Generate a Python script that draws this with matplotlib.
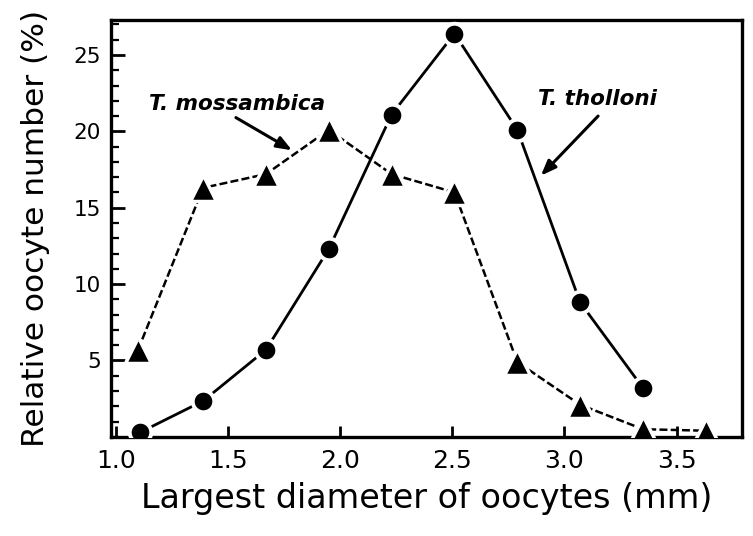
import matplotlib
matplotlib.use("Agg")
import matplotlib.pyplot as plt
from matplotlib.ticker import MultipleLocator

# Values
diam_tholloni = [1.11, 1.39, 1.67, 1.95, 2.23, 2.51, 2.79, 3.07, 3.35]
pct_tholloni = [0.3, 2.35, 5.7, 12.3, 21.1, 26.4, 20.1, 8.8, 3.2]

diam_mossambica = [1.10, 1.39, 1.67, 1.95, 2.23, 2.51, 2.79, 3.07, 3.35, 3.63]
pct_mossambica = [5.7, 16.3, 17.2, 20.1, 17.2, 16.0, 4.9, 2.1, 0.5, 0.4]

x_ticks = [1.0, 1.5, 2.0, 2.5, 3.0, 3.5]
x_ticklabels = ["1.0", "1.5", "2.0", "2.5", "3.0", "3.5"]
y_ticks = [5, 10, 15, 20, 25]
y_ticklabels = ["5", "10", "15", "20", "25"]

fig = plt.figure(figsize=(7.53, 5.36), dpi=100)
ax = fig.add_axes([0.147, 0.185, 0.838, 0.778])

# solid line + circles (T. tholloni)
ax.plot(diam_tholloni, pct_tholloni, color="black", lw=2.0,
        marker="o", ms=15.5, mfc="black", mec="white", mew=2.8, zorder=3)

# dashed line + triangles (T. mossambica)
ax.plot(diam_mossambica, pct_mossambica, color="black", lw=1.8,
        linestyle=(0, (3.2, 1.3)),
        marker="^", ms=19, mfc="black", mec="white", mew=2.5, zorder=3)

ax.set_xlim(0.978, 3.79)
ax.set_ylim(0, 27.3)

ax.set_xticks(x_ticks)
ax.set_xticklabels(x_ticklabels, fontsize=18)
ax.set_yticks(y_ticks)
ax.set_yticklabels(y_ticklabels, fontsize=15.5)
ax.yaxis.set_minor_locator(MultipleLocator(1))

ax.tick_params(axis="both", which="major", direction="in", width=2, color="black")
ax.tick_params(axis="x", which="major", length=8, pad=9)
ax.tick_params(axis="y", which="major", length=10, pad=7)
ax.tick_params(axis="y", which="minor", direction="in", length=6, width=1.6)

for sp in ax.spines.values():
    sp.set_linewidth(2.4)

ax.set_xlabel("Largest diameter of oocytes (mm)", fontsize=24, labelpad=6)
ax.set_ylabel("Relative oocyte number (%)", fontsize=22.5, labelpad=17)

# species labels with arrows
ax.text(1.54, 21.8, "T. mossambica", fontsize=15.5, style="italic",
        fontweight="bold", ha="center", va="center")
ax.annotate("", xy=(1.786, 18.76), xytext=(1.536, 20.9),
            arrowprops=dict(arrowstyle="-|>,head_length=0.9,head_width=0.35",
                            lw=2.2, color="black", shrinkA=0, shrinkB=0))

ax.text(3.147, 22.1, "T. tholloni", fontsize=15.5, style="italic",
        fontweight="bold", ha="center", va="center")
ax.annotate("", xy=(2.895, 17.1), xytext=(3.15, 21.0),
            arrowprops=dict(arrowstyle="-|>,head_length=0.9,head_width=0.35",
                            lw=2.2, color="black", shrinkA=0, shrinkB=0))

fig.savefig("out.png", dpi=100, facecolor="white")
